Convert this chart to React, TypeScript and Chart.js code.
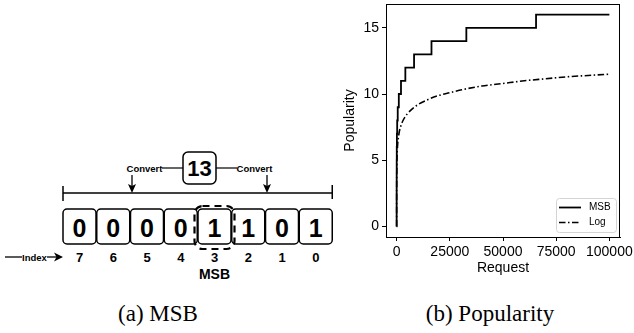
import React, { useEffect, useRef } from "react";
import { Chart, registerables } from "chart.js";

Chart.register(...registerables);

// ---------- Data (b) Popularity ----------
const msbRequests = [1, 2, 4, 8, 16, 32, 64, 128, 256, 512, 1024, 2048, 4096, 8192, 16384, 32768, 65536, 100000];
const msbPopularity = [0, 1, 2, 3, 4, 5, 6, 7, 8, 9, 10, 11, 12, 13, 14, 15, 16, 16];
const logRequests = [1, 3, 10, 30, 100, 300, 1000, 2000, 3000, 5000, 7500, 10000, 15000, 20000, 25000, 30000, 40000, 50000, 60000, 70000, 80000, 90000, 100000];
const logPopularity = [0, 1.1, 2.3, 3.4, 4.6, 5.7, 6.9, 7.6, 8.0, 8.5, 8.9, 9.2, 9.6, 9.9, 10.1, 10.3, 10.6, 10.8, 11.0, 11.15, 11.3, 11.4, 11.5];
const seriesLabels = ["MSB", "Log"];
const xTicks = [0, 25000, 50000, 75000, 100000];
const yTicks = [0, 5, 10, 15];
const xTitle = "Request";
const yTitle = "Popularity";

// ---------- Data (a) MSB diagram ----------
const inputValue = "13";
const bitIndices = [7, 6, 5, 4, 3, 2, 1, 0];
const bitValues = [0, 0, 0, 0, 1, 1, 0, 1];
const msbIndex = 3;
const captions = ["(a) MSB", "(b) Popularity"];

const SANS = "'Liberation Sans', Arial, Helvetica, sans-serif";
const SERIF = "'Liberation Serif', 'Times New Roman', serif";

const framePlugin = {
  id: "frameAndLegend",
  afterDraw(chart: any) {
    const { ctx, chartArea } = chart;
    const { left, right, top, bottom } = chartArea;
    ctx.save();
    ctx.strokeStyle = "#000";
    ctx.lineWidth = 1;
    ctx.beginPath();
    ctx.moveTo(left, top + 0.5);
    ctx.lineTo(right, top + 0.5);
    ctx.moveTo(right - 0.5, top);
    ctx.lineTo(right - 0.5, bottom);
    ctx.stroke();

    // legend
    const w = 60, h = 34;
    const lx = right - 4 - w;
    const ly = bottom - 5 - h;
    ctx.fillStyle = "rgba(255,255,255,0.85)";
    ctx.strokeStyle = "#d4d4d4";
    ctx.lineWidth = 1;
    ctx.beginPath();
    (ctx as any).roundRect(lx + 0.5, ly + 0.5, w, h, 3);
    ctx.fill();
    ctx.stroke();
    const dsets = chart.data.datasets;
    const rows = [ly + 9.5, ly + 24.5];
    dsets.forEach((ds: any, i: number) => {
      const y = rows[i];
      ctx.strokeStyle = "#000";
      ctx.lineWidth = ds.borderWidth;
      ctx.setLineDash(ds.borderDash || []);
      ctx.beginPath();
      ctx.moveTo(lx + 3, y);
      ctx.lineTo(lx + 25, y);
      ctx.stroke();
      ctx.setLineDash([]);
      ctx.fillStyle = "#000";
      ctx.font = `10px ${SANS}`;
      ctx.textBaseline = "middle";
      ctx.textAlign = "left";
      ctx.fillText(ds.label, lx + 33, y);
    });
    ctx.restore();
  },
};

function PopularityChart() {
  const ref = useRef<HTMLCanvasElement | null>(null);
  useEffect(() => {
    if (!ref.current) return;
    const font = { family: SANS, size: 14 };
    const chart = new Chart(ref.current, {
      type: "scatter",
      data: {
        datasets: [
          {
            label: seriesLabels[0],
            data: msbRequests.map((x, i) => ({ x, y: msbPopularity[i] })),
            showLine: true,
            stepped: true,
            borderColor: "#000",
            backgroundColor: "#000",
            borderWidth: 1.8,
            pointRadius: 0,
            fill: false,
          },
          {
            label: seriesLabels[1],
            data: logRequests.map((x, i) => ({ x, y: logPopularity[i] })),
            showLine: true,
            borderColor: "#000",
            backgroundColor: "#000",
            borderWidth: 1.6,
            borderDash: [6.5, 2.5, 1.5, 2.5],
            cubicInterpolationMode: "monotone",
            pointRadius: 0,
            fill: false,
          },
        ],
      } as any,
      options: {
        animation: false,
        responsive: false,
        maintainAspectRatio: false,
        devicePixelRatio: 1,
        layout: { padding: { top: 4, right: 14, left: 0, bottom: 0 } },
        plugins: { legend: { display: false }, tooltip: { enabled: false } },
        scales: {
          x: {
            type: "linear",
            min: -5000,
            max: 105000,
            afterBuildTicks: (s: any) => {
              s.ticks = xTicks.map((v) => ({ value: v }));
            },
            afterFit: (s: any) => {
              s.height = 53;
              s.paddingLeft = 0;
              s.paddingRight = 0;
            },
            ticks: {
              color: "#000",
              font,
              padding: 3,
              maxRotation: 0,
              autoSkip: false,
              callback: (v: any) => String(v),
            },
            grid: { drawOnChartArea: false, drawTicks: true, tickLength: 4, tickColor: "#000", color: "#000" },
            border: { color: "#000", width: 1 },
            title: { display: true, text: xTitle, color: "#000", font, padding: { top: 0, bottom: 13 } },
          },
          y: {
            type: "linear",
            min: -0.8,
            max: 16.8,
            afterBuildTicks: (s: any) => {
              s.ticks = yTicks.map((v) => ({ value: v }));
            },
            afterFit: (s: any) => {
              s.width = 56;
              s.paddingTop = 0;
              s.paddingBottom = 0;
            },
            ticks: { color: "#000", font, padding: 3, autoSkip: false, callback: (v: any) => String(v) },
            grid: { drawOnChartArea: false, drawTicks: true, tickLength: 4, tickColor: "#000", color: "#000" },
            border: { color: "#000", width: 1 },
            title: { display: true, text: yTitle, color: "#000", font, padding: { top: 12, bottom: 0 } },
          },
        },
      } as any,
      plugins: [framePlugin],
    });
    return () => chart.destroy();
  }, []);
  return (
    <canvas
      ref={ref}
      width={304}
      height={290}
      style={{ position: "absolute", left: 330, top: 0, width: 304, height: 290 }}
    />
  );
}

function MsbDiagram() {
  const boxLeft = 63;
  const pitch = 33.75;
  const boxW = 33;
  const boxTop = 209;
  const boxH = 35;
  const msbPos = bitIndices.indexOf(msbIndex);
  const msbCx = boxLeft + pitch * msbPos + boxW / 2;
  const lastRight = boxLeft + pitch * (bitIndices.length - 1) + boxW;
  const bold = { fontFamily: SANS, fontWeight: 700 as const };
  return (
    <svg width={340} height={290} style={{ position: "absolute", left: 0, top: 0 }}>
      {/* input value box */}
      <rect x={183} y={152} width={33} height={32} rx={5} fill="#fff" stroke="#000" strokeWidth={1.5} />
      <text x={199.5} y={168.5} textAnchor="middle" dominantBaseline="central" fontSize={22} {...bold}>
        {inputValue}
      </text>
      {/* connectors */}
      <line x1={162} y1={168} x2={183} y2={168} stroke="#000" strokeWidth={1.2} />
      <line x1={216} y1={168} x2={237} y2={168} stroke="#000" strokeWidth={1.2} />
      <text x={144.5} y={168.5} textAnchor="middle" dominantBaseline="central" fontSize={9.5} {...bold}>
        Convert
      </text>
      <text x={254.5} y={168.5} textAnchor="middle" dominantBaseline="central" fontSize={9.5} {...bold}>
        Convert
      </text>
      {/* down arrows */}
      {[132, 267].map((ax) => (
        <g key={ax}>
          <line x1={ax} y1={175} x2={ax} y2={188} stroke="#000" strokeWidth={1.3} />
          <polygon points={`${ax - 4},184 ${ax},193 ${ax + 4},184 ${ax},186`} fill="#000" />
        </g>
      ))}
      {/* bracket */}
      <line x1={63} y1={193} x2={lastRight} y2={193} stroke="#000" strokeWidth={1.5} />
      <line x1={63} y1={186} x2={63} y2={201} stroke="#000" strokeWidth={1.5} />
      <line x1={lastRight} y1={185} x2={lastRight} y2={199} stroke="#000" strokeWidth={1.5} />
      {/* bit boxes */}
      {bitValues.map((b, i) => {
        const x = boxLeft + pitch * i;
        return (
          <g key={i}>
            <rect x={x} y={boxTop} width={boxW} height={boxH} rx={4} fill="#fff" stroke="#000" strokeWidth={1.5} />
            <text
              x={x + boxW / 2}
              y={boxTop + boxH / 2 + 1}
              textAnchor="middle"
              dominantBaseline="central"
              fontSize={25}
              {...bold}
            >
              {String(b)}
            </text>
            <text
              x={x + boxW / 2}
              y={257}
              textAnchor="middle"
              dominantBaseline="central"
              fontSize={13}
              {...bold}
            >
              {String(bitIndices[i])}
            </text>
          </g>
        );
      })}
      {/* MSB highlight */}
      <rect
        x={msbCx - 20}
        y={206}
        width={40}
        height={43}
        rx={8}
        fill="none"
        stroke="#000"
        strokeWidth={2.2}
        strokeDasharray="7 5"
      />
      <text x={msbCx} y={274} textAnchor="middle" dominantBaseline="central" fontSize={14} {...bold}>
        MSB
      </text>
      {/* Index arrow */}
      <line x1={5} y1={257} x2={22} y2={257} stroke="#000" strokeWidth={1.3} />
      <text x={22} y={257.5} textAnchor="start" dominantBaseline="central" fontSize={9.5} {...bold}>
        Index
      </text>
      <line x1={47} y1={257} x2={57} y2={257} stroke="#000" strokeWidth={1.3} />
      <polygon points="54,252.5 63,257 54,261.5 56.5,257" fill="#000" />
    </svg>
  );
}

export default function App() {
  return (
    <div style={{ position: "absolute", left: 0, top: 0, width: 634, height: 333, background: "#fff", overflow: "hidden" }}>
      <MsbDiagram />
      <PopularityChart />
      <div
        style={{
          position: "absolute",
          left: 158 - 100,
          top: 300,
          width: 200,
          textAlign: "center",
          fontFamily: SERIF,
          fontSize: 23,
          lineHeight: "28px",
          color: "#000",
        }}
      >
        {captions[0]}
      </div>
      <div
        style={{
          position: "absolute",
          left: 490 - 100,
          top: 300,
          width: 200,
          textAlign: "center",
          fontFamily: SERIF,
          fontSize: 23,
          lineHeight: "28px",
          color: "#000",
        }}
      >
        {captions[1]}
      </div>
    </div>
  );
}
